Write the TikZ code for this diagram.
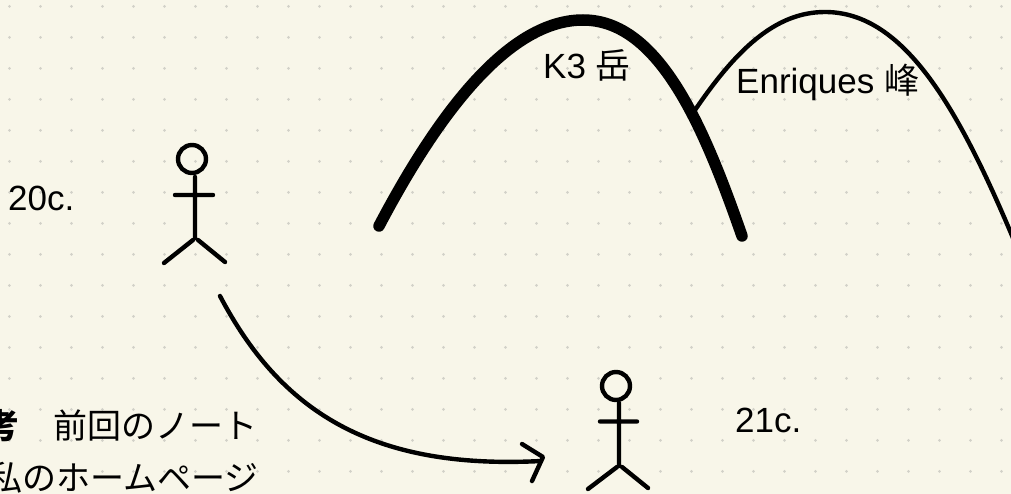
\documentclass[tikz,border=0pt]{standalone}
\usepackage{fontspec}
\setmainfont{Liberation Sans}
\newfontfamily\cjkfont{Noto Sans CJK JP}
\definecolor{paper}{HTML}{F8F6E9}
\definecolor{griddot}{HTML}{D2D1C8}
\tikzset{
  label text/.style={inner sep=0pt,anchor=base west,text=black,font=\fontsize{35}{40}\selectfont},
  note text/.style={inner sep=0pt,anchor=base west,text=black,font=\cjkfont\fontsize{34}{40}\selectfont},
  figure line/.style={draw=black,line width=4.4pt,line cap=round,line join=round},
  thin hill/.style={draw=black,line width=4.4pt,line cap=round},
  thick hill/.style={draw=black,line width=11.5pt,line cap=round},
  link line/.style={draw=black,line width=4.4pt,line cap=round,line join=round},
}
\begin{document}
\begin{tikzpicture}[x=1pt,y=-1pt]
\path[use as bounding box,clip] (0,0) rectangle (1011,494);
\fill[paper] (0,0) rectangle (1011,494);
\foreach \i in {0,...,32}{\foreach \j in {0,...,16}{
  \fill[griddot] ({9.4+31*\i},{6.4+31*\j}) circle[radius=1.5];
}}
% hills
\coordinate (enriquesStart) at (691,116);
\coordinate (enriquesTop) at (825,12);
\coordinate (enriquesEnd) at (1018,250);
\draw[thin hill] (enriquesStart) .. controls (735,50) and (775,12) .. (enriquesTop)
  .. controls (905,12) and (960,110) .. (enriquesEnd);
\coordinate (kStart) at (379,226);
\coordinate (kTop) at (583,20);
\coordinate (kEnd) at (742,236);
\draw[thick hill] (kStart) .. controls (440,110) and (510,20) .. (kTop)
  .. controls (660,20) and (705,130) .. (kEnd);
% first figure
\draw[figure line] (192,159) circle[radius=14];
\coordinate (aNeck) at (195,177);
\coordinate (aHip) at (195,238);
\coordinate (aArmL) at (175,195);
\coordinate (aArmR) at (213,195);
\coordinate (aFootL) at (164,263);
\coordinate (aFootR) at (225,262);
\draw[figure line] (aNeck) -- (aHip) (aArmL) -- (aArmR) (aFootL) -- (193,240) (198,240) -- (aFootR);
% second figure
\draw[figure line] (616,386) circle[radius=14];
\coordinate (bNeck) at (619,403);
\coordinate (bHip) at (619,466);
\coordinate (bArmL) at (600,421.5);
\coordinate (bArmR) at (637,421.5);
\coordinate (bFootL) at (588,489);
\coordinate (bFootR) at (648,488);
\draw[figure line] (bNeck) -- (bHip) (bArmL) -- (bArmR) (bFootL) -- (617,467) (622,467) -- (bFootR);
% arrow
\coordinate (linkStart) at (220,296);
\coordinate (linkEnd) at (541,461);
\draw[link line] (linkStart) .. controls (280,410) and (370,470) .. (linkEnd);
\draw[link line] (522,444) -- (543,457) -- (532,481);
% labels
\node[label text] (c20) at (8,211) {20c.};
\node[label text] (c21) at (735,432) {21c.};
\node[label text] (k3) at (543,79) {K3 {\cjkfont 岳}};
\node[label text] (enr) at (736,94) {Enriques {\cjkfont 峰}};
\node[note text] (note1) at (-48.5,438) {{\bfseries 参考}　前回のノート};
\node[note text] (note2) at (-12,490) {私のホームページ};
\end{tikzpicture}
\end{document}
